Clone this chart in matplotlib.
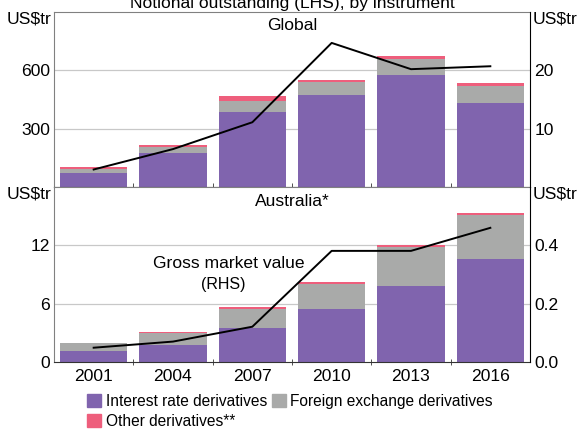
import numpy as np
import matplotlib.pyplot as plt
from matplotlib.patches import Patch

plt.rcParams['font.family'] = ['Liberation Sans', 'DejaVu Sans']

years = ['2001', '2004', '2007', '2010', '2013', '2016']

# Global notional outstanding, US$tr (LHS)
glob_ir = [70, 174, 385, 473, 576, 432]
glob_fx = [22, 31, 58, 65, 80, 88]
glob_other = [9, 12, 24, 14, 16, 13]
# Global gross market value, US$tr (RHS)
glob_gmv = [3.0, 6.5, 11.1, 24.7, 20.2, 20.7]

# Australia notional outstanding, US$tr (LHS)
aus_ir = [1.16, 1.78, 3.53, 5.49, 7.79, 10.57]
aus_fx = [0.80, 1.17, 1.92, 2.51, 4.05, 4.56]
aus_other = [0.03, 0.14, 0.18, 0.23, 0.20, 0.17]
# Australia gross market value, US$tr (RHS)
aus_gmv = [0.049, 0.070, 0.121, 0.381, 0.381, 0.460]

purple = '#8064ae'
grey = '#a9aaa9'
pink = '#ee5e7c'
gridc = '#c8c8c8'
fs = 12.6

x = np.arange(len(years))
w = 0.85

fig = plt.figure(figsize=(5.77, 4.3), dpi=100)
ax1 = fig.add_axes([54 / 577, 1 - 187 / 430, 476 / 577, 175 / 430])
ax2 = fig.add_axes([54 / 577, 1 - 362 / 430, 476 / 577, 175 / 430])


def panel(ax, ir, fx, other, gmv, lmax, lticks, rmax, rticks, rfmt):
    ir = np.array(ir)
    fx = np.array(fx)
    other = np.array(other)
    ax.bar(x, ir, w, color=purple, zorder=2)
    ax.bar(x, fx, w, bottom=ir, color=grey, zorder=2)
    ax.bar(x, other, w, bottom=ir + fx, color=pink, zorder=2)
    ax.set_xlim(-0.5, 5.5)
    ax.set_ylim(0, lmax)
    ax.set_yticks(lticks)
    ax.set_yticklabels([str(t) for t in lticks], fontsize=fs)
    ax.tick_params(axis='y', length=0, pad=3)
    for t in lticks:
        if t > 0:
            ax.axhline(t, color=gridc, lw=0.9, zorder=1)
    for s in ['left', 'top']:
        ax.spines[s].set_color('#808080')
    ax.spines['bottom'].set_color('#333333')
    ax.spines['right'].set_visible(False)
    axr = ax.twinx()
    axr.plot(x, gmv, color='black', lw=1.4, zorder=3)
    axr.set_ylim(0, rmax)
    axr.set_yticks(rticks)
    axr.set_yticklabels([rfmt.format(t) for t in rticks], fontsize=fs)
    axr.tick_params(axis='y', length=0, pad=3)
    axr.spines['right'].set_color('black')
    for s in ['left', 'top', 'bottom']:
        axr.spines[s].set_visible(False)
    return axr


panel(ax1, glob_ir, glob_fx, glob_other, glob_gmv, 900, [300, 600], 30, [10, 20], '{:g}')
panel(ax2, aus_ir, aus_fx, aus_other, aus_gmv, 18, [0, 6, 12], 0.6, [0.0, 0.2, 0.4], '{:.1f}')

ax1.set_xticks([])
ax1.set_xticks(x[:-1] + 0.5, minor=True)
ax1.tick_params(axis='x', which='minor', length=3, direction='in', color='#333333')
ax2.set_xticks(x)
ax2.set_xticklabels(years, fontsize=fs)
ax2.tick_params(axis='x', which='major', length=0, pad=5)
ax2.set_xticks(x[:-1] + 0.5, minor=True)
ax2.tick_params(axis='x', which='minor', length=4, direction='inout', color='#333333')

ax1.text(0.5, 0.92, 'Global', transform=ax1.transAxes, ha='center', va='center', fontsize=fs)
ax2.text(0.5, 0.92, 'Australia*', transform=ax2.transAxes, ha='center', va='center', fontsize=fs)
ax2.text(229 / 577, 1 - 264 / 430, 'Gross market value', transform=fig.transFigure,
         ha='center', va='center', fontsize=fs)
ax2.text(223 / 577, 1 - 284 / 430, '(RHS)', transform=fig.transFigure,
         ha='center', va='center', fontsize=11.5)

fig.text(292 / 577, 1 - 8 / 430, 'Notional outstanding (LHS), by instrument',
         ha='center', va='baseline', fontsize=fs)
for yc in [19, 194]:
    fig.text(52 / 577, 1 - yc / 430, 'US$tr', ha='right', va='center', fontsize=fs)
    fig.text(533 / 577, 1 - yc / 430, 'US$tr', ha='left', va='center', fontsize=fs)

handles = [Patch(color=purple), Patch(color=pink), Patch(color=grey)]
labels = ['Interest rate derivatives', 'Other derivatives**', 'Foreign exchange derivatives']
fig.legend(handles, labels, ncol=2, loc='upper left', bbox_to_anchor=(87 / 577, 1 - 394 / 430),
           frameon=False, fontsize=11.2, handlelength=0.9, handleheight=0.9,
           handletextpad=0.3, columnspacing=0.3, labelspacing=0.3, borderpad=0, borderaxespad=0)

fig.savefig('out.png', dpi=100)
